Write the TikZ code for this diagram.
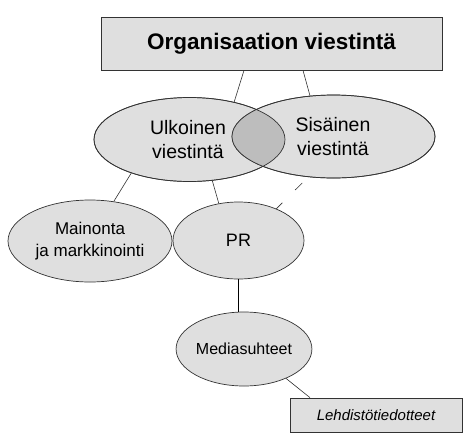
\documentclass[tikz,border=0pt]{standalone}
\usepackage{fontspec}
\setmainfont{Liberation Sans}
\usetikzlibrary{shapes.geometric}
\definecolor{fillg}{HTML}{DFDFDF}
\definecolor{darkg}{HTML}{BDBDBD}
\definecolor{lineg}{HTML}{333333}
\begin{document}
\begin{tikzpicture}[x=1pt,y=-1pt,
  oval/.style={ellipse,draw=lineg,fill=fillg,line width=0.7pt,inner sep=0pt,align=center},
  boxnode/.style={rectangle,draw=lineg,fill=fillg,line width=0.7pt,inner sep=0pt},
  conn/.style={draw=lineg,line width=0.6pt}]
\useasboundingbox[fill=white] (0,0) rectangle (474,440);
% title
\node[boxnode,minimum width=341pt,minimum height=53pt] (T) at (271.5,43.5)
  {\fontsize{22.5}{26}\selectfont\bfseries Organisaation viestintä};
% overlapping ellipses
\node[oval,minimum width=191pt,minimum height=84pt] (U) at (189.5,139.5) {};
\node[oval,minimum width=203pt,minimum height=83pt] (S) at (333.5,136.5) {};
\begin{scope}
  \clip (189.5,139.5) ellipse [x radius=95.5pt, y radius=42pt];
  \fill[darkg] (333.5,136.5) ellipse [x radius=101.5pt, y radius=41.5pt];
\end{scope}
\draw[lineg,line width=0.7pt] (189.5,139.5) ellipse [x radius=95.5pt, y radius=42pt];
\draw[lineg,line width=0.7pt] (333.5,136.5) ellipse [x radius=101.5pt, y radius=41.5pt];
\node[align=center,font=\fontsize{19.5}{24}\selectfont] (Ut) at (188,140) {Ulkoinen\\viestintä};
\node[align=center,font=\fontsize{19.5}{24}\selectfont] (St) at (333,137) {Sisäinen\\viestintä};
% second level
\node[oval,minimum width=164pt,minimum height=82pt,font=\fontsize{17}{22}\selectfont] (M) at (90,241) {Mainonta\\ja markkinointi};
\node[oval,minimum width=131pt,minimum height=77pt,font=\fontsize{18}{22}\selectfont] (PR) at (238.5,240.5) {PR};
\node[oval,minimum width=132pt,minimum height=74pt,font=\fontsize{16}{20}\selectfont] (MS) at (244,349) {Mediasuhteet};
\node[boxnode,minimum width=172pt,minimum height=34pt,font=\fontsize{15}{18}\selectfont\itshape] (L) at (376,415) {Lehdistötiedotteet};
% connectors
\draw[conn] ([xshift=-27.5pt]T.south) -- (U.40.7);
\draw[conn] ([xshift=31.5pt]T.south) -- (S.120);
\draw[conn] (U.210) -- (M.59.5);
\draw[conn] (U.-61) -- (PR.118);
\draw[conn,dash pattern=on 8.5pt off 18pt on 10pt off 20pt] (PR.40) -- (S.238);
\draw[black,line width=0.9pt] (PR.south) -- (PR.south |- MS.north);
\draw[conn] (MS.-35) -- ([xshift=-66pt]L.north);
\end{tikzpicture}
\end{document}
